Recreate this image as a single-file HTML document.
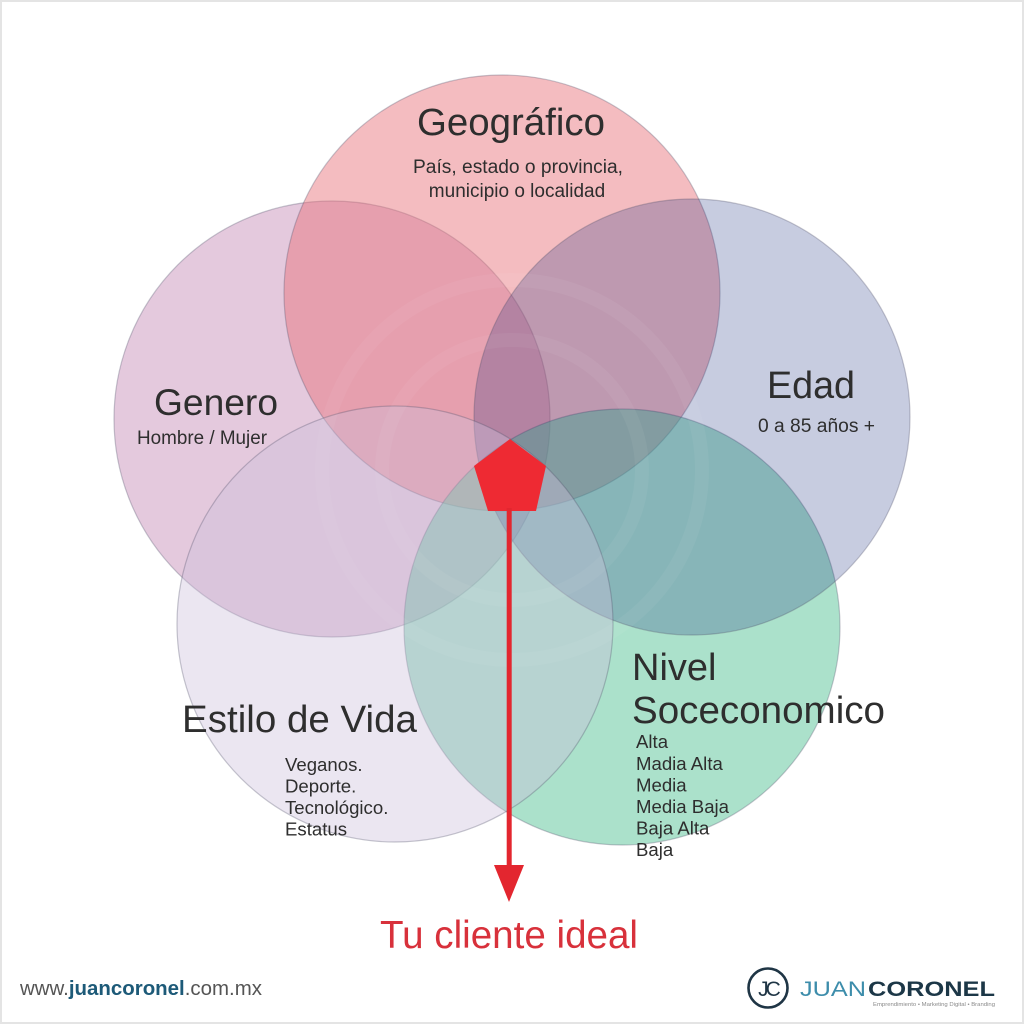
<!DOCTYPE html>
<html>
<head>
<meta charset="utf-8">
<style>
  html, body { margin:0; padding:0; background:#ffffff; }
  body { width:1024px; height:1024px; overflow:hidden; }
  svg { display:block; }
  text { font-family: "Liberation Sans", "DejaVu Sans", sans-serif; }
</style>
</head>
<body>
<svg width="1024" height="1024" viewBox="0 0 1024 1024" xmlns="http://www.w3.org/2000/svg">
  <rect x="0" y="0" width="1024" height="1024" fill="#ffffff"/>
  <rect x="1" y="1" width="1022" height="1022" fill="none" stroke="#e4e4e4" stroke-width="2"/>

  <!-- Circles (ordered bottom to top) -->
  <g stroke="rgba(80,80,105,0.32)" stroke-width="1.2">
    <!-- Genero -->
    <circle cx="332" cy="419" r="218" fill="#e4c9dd"/>
    <!-- Geográfico -->
    <circle cx="502" cy="293" r="218" fill="rgb(232,113,121)" fill-opacity="0.47"/>
    <!-- Nivel -->
    <circle cx="622" cy="627" r="218" fill="rgb(87,195,151)" fill-opacity="0.5"/>
    <!-- Edad -->
    <circle cx="692" cy="417" r="218" fill="rgb(20,40,125)" fill-opacity="0.24"/>
    <!-- Estilo de Vida -->
    <circle cx="395" cy="624" r="218" fill="rgb(204,191,219)" fill-opacity="0.39"/>
  </g>

  <!-- faint watermark rings -->
  <g fill="none" stroke="rgba(255,255,255,0.05)" stroke-width="14">
    <circle cx="512" cy="470" r="190"/>
    <circle cx="512" cy="470" r="130"/>
  </g>

  <!-- Pentagon + arrow -->
  <polygon points="510,439 546,466 536,511 488,511 474,466" fill="#ee2a33"/>
  <rect x="506.7" y="508" width="5" height="359" fill="#e3262f"/>
  <polygon points="494,865 524,865 509,902" fill="#e3262f"/>

  <!-- Labels -->
  <g fill="#2e2e2e">
    <text x="511" y="135" font-size="38" text-anchor="middle" textLength="188" lengthAdjust="spacingAndGlyphs">Geográfico</text>
    <text x="518" y="173" font-size="19" text-anchor="middle" textLength="210" lengthAdjust="spacingAndGlyphs">País, estado o provincia,</text>
    <text x="517" y="197" font-size="19" text-anchor="middle">municipio o localidad</text>

    <text x="154" y="415" font-size="37" textLength="124" lengthAdjust="spacingAndGlyphs">Genero</text>
    <text x="137" y="444" font-size="19" textLength="130" lengthAdjust="spacingAndGlyphs">Hombre / Mujer</text>

    <text x="767" y="398" font-size="38" textLength="88" lengthAdjust="spacingAndGlyphs">Edad</text>
    <text x="758" y="432" font-size="19" textLength="117" lengthAdjust="spacingAndGlyphs">0 a 85 años +</text>

    <text x="632" y="680" font-size="38">Nivel</text>
    <text x="632" y="723" font-size="38" textLength="253" lengthAdjust="spacingAndGlyphs">Soceconomico</text>
    <g font-size="18.6">
      <text x="636" y="748">Alta</text>
      <text x="636" y="770">Madia Alta</text>
      <text x="636" y="791.5">Media</text>
      <text x="636" y="813">Media Baja</text>
      <text x="636" y="834.5">Baja Alta</text>
      <text x="636" y="856">Baja</text>
    </g>

    <text x="182" y="732" font-size="38" textLength="235" lengthAdjust="spacingAndGlyphs">Estilo de Vida</text>
    <g font-size="18.6">
      <text x="285" y="771">Veganos.</text>
      <text x="285" y="792.5">Deporte.</text>
      <text x="285" y="814">Tecnológico.</text>
      <text x="285" y="835.5">Estatus</text>
    </g>
  </g>

  <text x="380" y="948" font-size="38.5" fill="#d8313b" textLength="258" lengthAdjust="spacingAndGlyphs">Tu cliente ideal</text>

  <!-- Footer -->
  <text x="20" y="995" font-size="20.5" textLength="242" lengthAdjust="spacingAndGlyphs"><tspan fill="#555555">www.</tspan><tspan fill="#1d5a78" font-weight="bold">juancoronel</tspan><tspan fill="#555555">.com.mx</tspan></text>

  <circle cx="768" cy="988" r="19.5" fill="none" stroke="#1f3545" stroke-width="2.6"/>
  <text x="768" y="996" font-size="21" fill="#1f3545" text-anchor="middle" letter-spacing="-3">JC</text>
  <text x="800" y="996" font-size="21" fill="#3d8dab" textLength="66" lengthAdjust="spacingAndGlyphs">JUAN</text>
  <text x="868" y="996" font-size="21" font-weight="bold" fill="#1c3747" textLength="127" lengthAdjust="spacingAndGlyphs">CORONEL</text>
  <text x="873" y="1006" font-size="5" fill="#8a8a8a" textLength="122" lengthAdjust="spacingAndGlyphs">Emprendimiento • Marketing Digital • Branding</text>
</svg>
</body>
</html>
